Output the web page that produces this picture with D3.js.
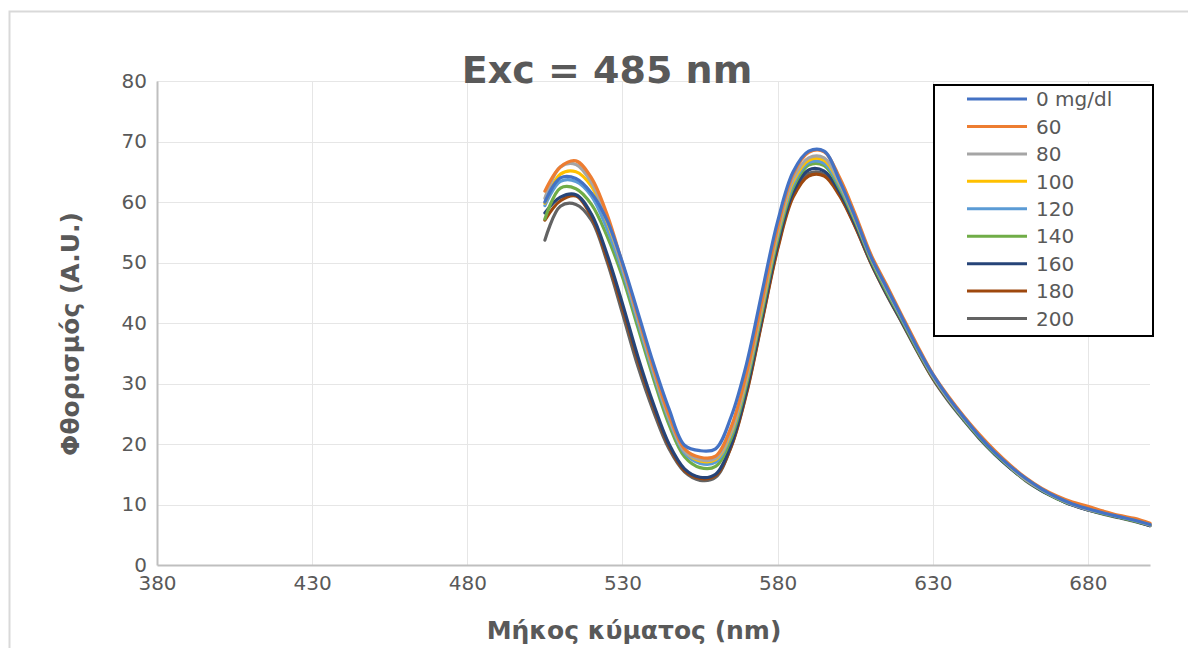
<!DOCTYPE html>
<html><head><meta charset="utf-8">
<script src="https://cdn.jsdelivr.net/npm/d3@7"></script>
<style>body{margin:0;background:#fff;}svg{display:block;font-family:"DejaVu Sans",sans-serif;}</style>
</head><body>
<svg id="c" width="1188" height="648"></svg>
<script>
const wavelengths = [505,510,515,520,525,530,535,540,545,550,555,560,565,570,575,580,585,590,595,600,605,610,615,620,625,630,635,640,645,650,655,660,665,670,675,680,685,690,695,700];
const seriesNames = ["0 mg/dl","60","80","100","120","140","160","180","200"];
const s0   = [60.0,64.0,63.9,61.5,57.0,50.0,41.7,33.3,25.8,19.8,18.9,19.2,24.5,33.3,45.2,56.8,65.0,68.4,68.4,63.5,57.5,51.0,46.0,41.0,36.0,31.5,27.7,24.4,21.3,18.6,16.3,14.3,12.6,11.2,10.1,9.3,8.6,8.0,7.4,6.7];
const s60  = [61.8,65.8,66.8,64.0,58.0,49.8,41.2,32.6,24.8,19.2,17.8,18.0,22.8,31.8,43.8,55.8,64.6,68.2,68.3,64.0,58.0,51.4,46.4,41.3,36.3,31.6,27.9,24.6,21.6,18.9,16.5,14.4,12.7,11.4,10.4,9.7,8.9,8.2,7.7,6.9];
const s80  = [60.6,65.8,66.2,63.2,57.2,49.2,40.6,32.0,24.3,18.8,17.4,17.6,22.2,31.2,43.2,55.2,63.8,67.3,67.3,63.2,57.5,51.0,45.8,40.9,35.9,31.3,27.5,24.3,21.3,18.6,16.2,14.1,12.5,11.1,10.0,9.2,8.6,8.0,7.4,6.6];
const s100 = [59.8,64.6,65.0,62.6,56.8,49.4,40.8,32.2,24.5,18.9,17.2,17.4,21.9,30.9,42.8,54.8,63.4,66.9,66.9,63.0,57.3,50.9,45.9,41.0,36.0,31.4,27.6,24.4,21.4,18.7,16.3,14.2,12.6,11.2,10.2,9.4,8.7,8.1,7.5,6.7];
const s120 = [59.4,63.4,63.4,61.0,55.6,48.6,40.1,31.6,24.0,18.5,16.8,17.0,21.5,30.5,42.4,54.4,62.9,66.5,66.4,62.6,57.1,50.8,45.7,40.8,35.9,31.3,27.6,24.3,21.3,18.6,16.3,14.2,12.5,11.2,10.1,9.3,8.6,8.0,7.4,6.7];
const s140 = [57.2,62.3,62.2,59.6,54.4,47.6,39.2,30.8,23.2,17.9,16.1,16.3,20.9,29.9,41.8,53.8,62.4,66.1,66.0,62.2,56.8,50.5,45.3,40.5,35.6,31.1,27.4,24.1,21.1,18.4,16.1,14.0,12.4,11.0,10.0,9.2,8.5,7.9,7.3,6.6];
const s160 = [58.2,60.8,61.2,58.0,51.4,43.2,34.4,26.6,20.0,15.9,14.5,15.0,19.9,29.0,41.0,53.0,61.6,65.3,65.1,61.6,56.3,50.2,45.0,40.3,35.5,31.0,27.3,24.0,21.0,18.3,16.0,14.0,12.3,11.0,9.9,9.1,8.5,7.9,7.3,6.5];
const s180 = [57.0,60.2,61.0,57.6,50.8,42.6,33.9,26.2,19.7,15.6,14.3,14.8,19.5,28.4,40.3,52.2,60.8,64.3,64.3,61.0,55.9,50.0,44.9,40.2,35.4,30.9,27.3,24.1,21.1,18.5,16.1,14.1,12.4,11.1,10.1,9.3,8.6,8.0,7.4,6.6];
const s200 = [53.7,59.3,59.6,57.0,50.2,41.6,32.8,25.4,19.2,15.4,14.0,14.5,19.6,28.6,40.5,52.5,61.2,64.7,64.6,61.2,56.0,50.0,44.8,40.1,35.3,30.8,27.1,23.9,20.9,18.3,16.0,13.9,12.3,11.0,9.9,9.1,8.4,7.8,7.2,6.5];
const xTicks = [380,430,480,530,580,630,680];
const yTicks = [0,10,20,30,40,50,60,70,80];
const titleText = "Exc = 485 nm";
const xTitle = "Μήκος κύματος (nm)";
const yTitle = "Φθορισμός (A.U.)";

const colors = ["#4472C4","#ED7D31","#A5A5A5","#FFC000","#5B9BD5","#70AD47","#264478","#9E480E","#636363"];
const allSeries = [s0,s60,s80,s100,s120,s140,s160,s180,s200];
const textColor = "#595959";

const svg = d3.select("#c");
// outer frame
svg.append("path").attr("d","M9.5,700 V11.5 H1188").attr("fill","none").attr("stroke","#d9d9d9").attr("stroke-width",2);

const x = d3.scaleLinear().domain([380,700]).range([157,1150]);
const y = d3.scaleLinear().domain([0,80]).range([565,81]);

// gridlines
svg.append("g").selectAll("line").data(yTicks.filter(d=>d>0)).join("line")
  .attr("x1",157).attr("x2",1150).attr("y1",d=>Math.round(y(d))+0.5).attr("y2",d=>Math.round(y(d))+0.5)
  .attr("stroke","#e6e6e6").attr("stroke-width",1);
svg.append("g").selectAll("line").data(xTicks.filter(d=>d>380)).join("line")
  .attr("y1",81).attr("y2",565).attr("x1",d=>Math.round(x(d))+0.5).attr("x2",d=>Math.round(x(d))+0.5)
  .attr("stroke","#e6e6e6").attr("stroke-width",1);

// axes
const xAxis = d3.axisBottom(x).tickValues(xTicks).tickSize(0).tickPadding(11);
const gx = svg.append("g").attr("transform","translate(0,565)").call(xAxis);
gx.select(".domain").attr("stroke","#bfbfbf").attr("stroke-width",2);
gx.selectAll("text").attr("fill",textColor).style("font-size","20px").style("font-family","DejaVu Sans");
const yAxis = d3.axisLeft(y).tickValues(yTicks).tickSize(0).tickPadding(10);
const gy = svg.append("g").attr("transform","translate(157,0)").call(yAxis);
gy.select(".domain").attr("stroke","#bfbfbf").attr("stroke-width",2);
gy.selectAll("text").attr("fill",textColor).style("font-size","20px").style("font-family","DejaVu Sans");

// lines
const line = d3.line().x((d,i)=>x(wavelengths[i])).y(d=>y(d)).curve(d3.curveCatmullRom.alpha(0.5));
const order = d3.range(allSeries.length).reverse();
svg.append("g").selectAll("path").data(order).join("path")
  .attr("d",i=>line(allSeries[i])).attr("fill","none")
  .attr("stroke",i=>colors[i]).attr("stroke-width",3.2).attr("stroke-linejoin","round").attr("stroke-linecap","round");

// titles
svg.append("text").attr("x",607).attr("y",83).attr("text-anchor","middle")
  .attr("fill",textColor).style("font-size","38px").style("font-weight","bold").text(titleText);
svg.append("text").attr("x",634).attr("y",639).attr("text-anchor","middle")
  .attr("fill",textColor).style("font-size","25px").style("font-weight","bold").text(xTitle);
svg.append("text").attr("transform","translate(79,334) rotate(-90)").attr("text-anchor","middle")
  .attr("fill",textColor).style("font-size","25px").style("font-weight","bold").text(yTitle);

// legend
const lg = svg.append("g");
lg.append("rect").attr("x",934).attr("y",85).attr("width",219).attr("height",251)
  .attr("fill","#fff").attr("stroke","#000").attr("stroke-width",2);
const rowY = d3.scalePoint().domain(seriesNames).range([99,318.5]);
const items = lg.selectAll("g.item").data(seriesNames).join("g").attr("class","item");
items.append("line").attr("x1",967).attr("x2",1027).attr("y1",d=>rowY(d)).attr("y2",d=>rowY(d))
  .attr("stroke",(d,i)=>colors[i]).attr("stroke-width",3);
items.append("text").attr("x",1036).attr("y",d=>rowY(d)).attr("dy","0.36em")
  .attr("fill",textColor).style("font-size","20px").text(d=>d);
</script>
</body></html>
